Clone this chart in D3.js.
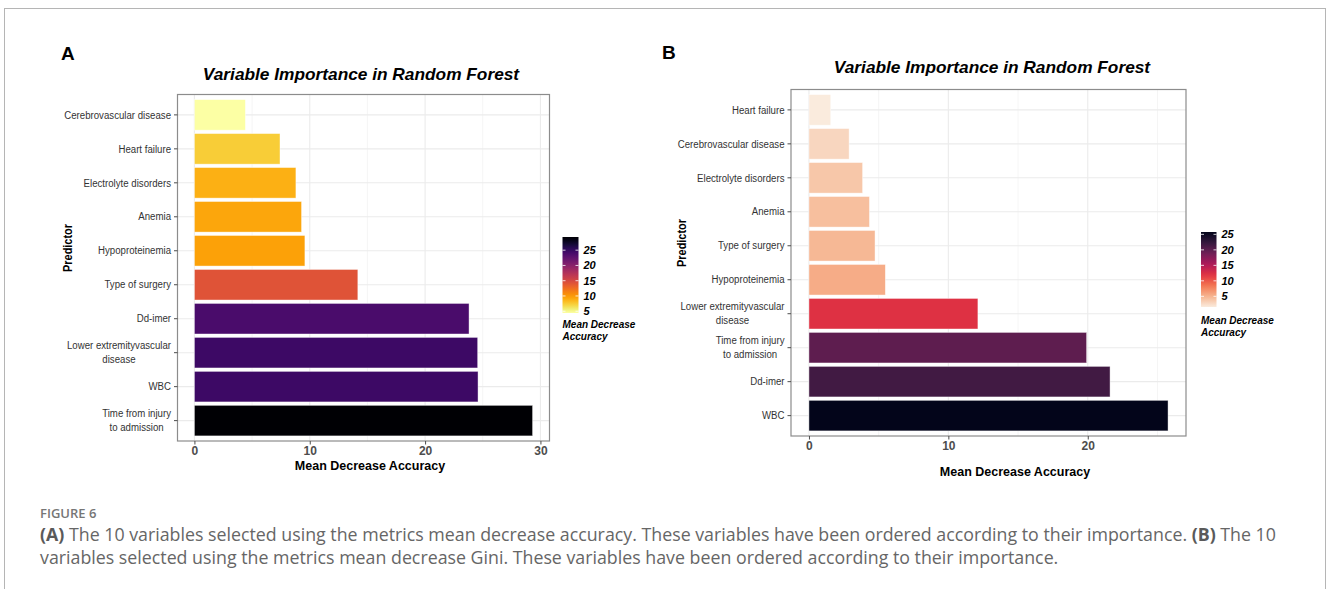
<!DOCTYPE html>
<html>
<head>
<meta charset="utf-8">
<script src="https://cdn.jsdelivr.net/npm/d3@7"></script>
<style>
  body { margin: 0; background: #fff; }
  svg { display: block; }
</style>
</head>
<body>
<script>
// panel A: mean decrease accuracy
var predictorsA = ["Cerebrovascular disease", "Heart failure", "Electrolyte disorders", "Anemia", "Hypoproteinemia",
  "Type of surgery", "Dd-imer", "Lower extremityvascular\ndisease", "WBC", "Time from injury\nto admission"];
var valuesA = [4.42, 7.42, 8.80, 9.29, 9.58, 14.17, 23.81, 24.56, 24.59, 29.32];
// panel B: mean decrease gini
var predictorsB = ["Heart failure", "Cerebrovascular disease", "Electrolyte disorders", "Anemia", "Type of surgery",
  "Hypoproteinemia", "Lower extremityvascular\ndisease", "Time from injury\nto admission", "Dd-imer", "WBC"];
var valuesB = [1.56, 2.88, 3.85, 4.34, 4.74, 5.48, 12.12, 19.92, 21.60, 25.76];

var xTicksA = [0, 10, 20, 30];
var xTicksB = [0, 10, 20];
var legendTicks = [5, 10, 15, 20, 25];
var captionLine1 = ["(A)", " The 10 variables selected using the metrics mean decrease accuracy. These variables have been ordered according to their importance. ", "(B)", " The 10"];
var captionLine2 = "variables selected using the metrics mean decrease Gini. These variables have been ordered according to their importance.";

// rocket palette (reversed use below)
var rocketStops = ["#03051a", "#35193e", "#701f57", "#ad1759", "#e13342", "#f37651", "#f6b48f", "#faebdd"];
var interpolateRocket = d3.piecewise(d3.interpolateRgb, rocketStops);

var W = 1328, H = 589;
var svg = d3.select("body").append("svg")
  .attr("width", W)
  .attr("height", H);

// figure frame
svg.append("rect")
  .attr("x", 4.5).attr("y", 8.5)
  .attr("width", 1321).attr("height", 640)
  .attr("fill", "none")
  .attr("stroke", "#b5b5b5")
  .attr("stroke-width", 1);

var boldFont = "'Liberation Sans', Arial, Helvetica, sans-serif";
var narrow = 0.84; // squeeze for the condensed axis labels

function drawPanel(p) {
  var g = svg.append("g");
  var vmax = d3.max(p.values), vmin = d3.min(p.values);
  var pad = vmax * 0.05;

  var x = d3.scaleLinear()
    .domain([-pad, vmax + pad])
    .range([p.left, p.right]);
  var y = d3.scaleBand()
    .domain(p.categories)
    .range([p.top, p.bottom])
    .paddingInner(0.1)
    .paddingOuter(0.15);
  var color = d3.scaleSequential(function(t) { return p.interp(1 - t); })
    .domain([vmin, vmax]);

  // grid
  var minor = d3.range(5, vmax + pad, 10);
  g.selectAll(".minor").data(minor).enter().append("line")
    .attr("x1", d => x(d)).attr("x2", d => x(d))
    .attr("y1", p.top).attr("y2", p.bottom)
    .attr("stroke", "#f2f2f2").attr("stroke-width", 0.8);
  g.selectAll(".major").data(p.xTicks).enter().append("line")
    .attr("x1", d => x(d)).attr("x2", d => x(d))
    .attr("y1", p.top).attr("y2", p.bottom)
    .attr("stroke", "#ebebeb").attr("stroke-width", 1.1);
  g.selectAll(".hgrid").data(p.categories).enter().append("line")
    .attr("x1", p.left).attr("x2", p.right)
    .attr("y1", d => y(d) + y.bandwidth() / 2).attr("y2", d => y(d) + y.bandwidth() / 2)
    .attr("stroke", "#ebebeb").attr("stroke-width", 1.1);

  // bars
  g.selectAll(".bar").data(p.values).enter().append("rect")
    .attr("x", x(0))
    .attr("y", (d, i) => y(p.categories[i]))
    .attr("width", d => x(d) - x(0))
    .attr("height", y.bandwidth())
    .attr("fill", d => color(d))
    .attr("stroke", "#ffffff")
    .attr("stroke-opacity", 0.6)
    .attr("stroke-width", 0.7);

  // panel border
  g.append("rect")
    .attr("x", p.left).attr("y", p.top)
    .attr("width", p.right - p.left).attr("height", p.bottom - p.top)
    .attr("fill", "none")
    .attr("stroke", "#8c8c8c")
    .attr("stroke-width", 1.2);

  // x axis
  var xAxis = g.append("g")
    .attr("transform", "translate(0," + p.bottom + ")")
    .call(d3.axisBottom(x).tickValues(p.xTicks).tickSize(3.5).tickPadding(2));
  xAxis.select(".domain").remove();
  xAxis.selectAll("line").attr("stroke", "#4d4d4d");
  xAxis.selectAll("text")
    .attr("fill", "#4d4d4d")
    .style("font-family", boldFont)
    .style("font-size", "12px")
    .style("font-weight", "bold");

  // y axis
  var yAxis = g.append("g")
    .attr("transform", "translate(" + p.left + ",0)")
    .call(d3.axisLeft(y).tickSize(3.5).tickPadding(3));
  yAxis.select(".domain").remove();
  yAxis.selectAll("line").attr("stroke", "#4d4d4d");
  yAxis.selectAll("text")
    .attr("fill", "#333")
    .style("font-family", boldFont)
    .style("font-size", "11.5px")
    .each(function(d) {
      var t = d3.select(this);
      var xr = +t.attr("x") / narrow;
      t.attr("transform", "scale(" + narrow + ",1)").attr("x", xr);
      var lines = d.split("\n");
      if (lines.length < 2) return;
      t.text(null);
      var spans = lines.map(function(s, k) {
        return t.append("tspan").attr("dy", k === 0 ? "-0.05em" : "1.2em").text(s);
      });
      t.attr("dy", null);
      var wmax = d3.max(spans, s => s.node().getComputedTextLength());
      t.attr("text-anchor", "middle");
      spans.forEach(function(s) { s.attr("x", xr - wmax / 2); });
      t.attr("y", -3);
    });

  // axis titles
  g.append("text")
    .attr("x", p.xTitleX).attr("y", p.xTitleY)
    .attr("text-anchor", "middle")
    .style("font-family", boldFont).style("font-size", "12.5px").style("font-weight", "bold")
    .text("Mean Decrease Accuracy");
  g.append("text")
    .attr("transform", "translate(" + p.yTitleX + "," + p.yTitleY + ") rotate(-90) scale(0.84,1)")
    .attr("text-anchor", "middle")
    .style("font-family", boldFont).style("font-size", "13px").style("font-weight", "bold")
    .text("Predictor");

  // title + panel letter
  g.append("text")
    .attr("x", p.titleX).attr("y", p.titleY)
    .attr("text-anchor", "middle")
    .style("font-family", boldFont).style("font-size", "17.3px")
    .style("font-weight", "bold").style("font-style", "italic")
    .text("Variable Importance in Random Forest");
  g.append("text")
    .attr("x", p.letterX).attr("y", p.letterY)
    .style("font-family", boldFont).style("font-size", "19px").style("font-weight", "bold")
    .text(p.letter);

  // colour bar legend
  var gradId = "grad" + p.letter;
  var grad = svg.append("defs").append("linearGradient")
    .attr("id", gradId)
    .attr("x1", 0).attr("y1", 1).attr("x2", 0).attr("y2", 0);
  d3.range(0, 1.0001, 0.05).forEach(function(t) {
    grad.append("stop").attr("offset", t).attr("stop-color", color(vmin + t * (vmax - vmin)));
  });
  var lg = g.append("g");
  var ly = d3.scaleLinear().domain([vmin, vmax]).range([p.legBottom, p.legTop]);
  lg.append("rect")
    .attr("x", p.legX).attr("y", p.legTop)
    .attr("width", p.legW).attr("height", p.legBottom - p.legTop)
    .attr("fill", "url(#" + gradId + ")");
  lg.selectAll(".tl").data(legendTicks).enter().append("line")
    .attr("x1", p.legX).attr("x2", p.legX + 3)
    .attr("y1", d => ly(d)).attr("y2", d => ly(d))
    .attr("stroke", "#fff").attr("stroke-opacity", 0.8);
  lg.selectAll(".tr").data(legendTicks).enter().append("line")
    .attr("x1", p.legX + p.legW - 3).attr("x2", p.legX + p.legW)
    .attr("y1", d => ly(d)).attr("y2", d => ly(d))
    .attr("stroke", "#fff").attr("stroke-opacity", 0.8);
  lg.selectAll(".lt").data(legendTicks).enter().append("text")
    .attr("x", p.legX + p.legW + 5)
    .attr("y", d => ly(d))
    .attr("dy", "0.36em")
    .style("font-family", boldFont).style("font-size", "11px")
    .style("font-weight", "bold").style("font-style", "italic")
    .text(d => d);
  ["Mean Decrease", "Accuracy"].forEach(function(s, k) {
    lg.append("text")
      .attr("x", p.legX).attr("y", p.legTitleY + k * 11.5)
      .style("font-family", boldFont).style("font-size", "10px")
      .style("font-weight", "bold").style("font-style", "italic")
      .text(s);
  });
}

drawPanel({
  letter: "A", categories: predictorsA, values: valuesA, xTicks: xTicksA,
  interp: d3.interpolateInferno,
  left: 177.5, right: 549.5, top: 94.5, bottom: 441,
  titleX: 361, titleY: 80, letterX: 61, letterY: 60,
  xTitleX: 370, xTitleY: 470, yTitleX: 71.5, yTitleY: 248,
  legX: 562.5, legW: 16, legTop: 237, legBottom: 313, legTitleY: 328
});

drawPanel({
  letter: "B", categories: predictorsB, values: valuesB, xTicks: xTicksB,
  interp: interpolateRocket,
  left: 791, right: 1186, top: 89.5, bottom: 436,
  titleX: 992, titleY: 73, letterX: 662, letterY: 59,
  xTitleX: 1015, xTitleY: 476, yTitleX: 685.5, yTitleY: 243,
  legX: 1201, legW: 15.5, legTop: 232, legBottom: 307, legTitleY: 324
});

// caption
var cap = svg.append("g").style("font-family", "'Open Sans', Lato, sans-serif");
cap.append("text")
  .attr("x", 40).attr("y", 518)
  .attr("fill", "#767676")
  .style("font-size", "13px").style("font-weight", "600")
  .text("FIGURE 6");
var l1 = cap.append("text")
  .attr("x", 40).attr("y", 541)
  .attr("fill", "#666")
  .style("font-size", "17.8px");
captionLine1.forEach(function(s, i) {
  l1.append("tspan")
    .style("font-weight", i % 2 === 0 ? "bold" : "normal")
    .attr("fill", i % 2 === 0 ? "#5a5a5a" : "#666")
    .text(s);
});
cap.append("text")
  .attr("x", 40).attr("y", 564)
  .attr("fill", "#666")
  .style("font-size", "17.8px")
  .text(captionLine2);
</script>
</body>
</html>
